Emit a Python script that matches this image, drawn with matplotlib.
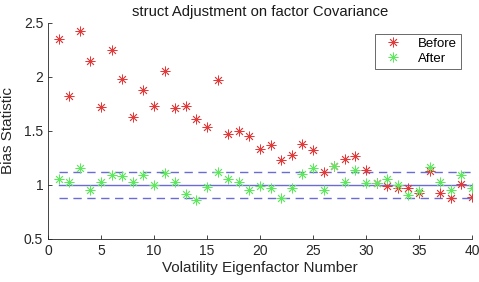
import matplotlib
matplotlib.use("Agg")
import matplotlib.pyplot as plt
import numpy as np

plt.rcParams['font.family'] = ['Liberation Sans', 'DejaVu Sans']

factor = list(range(1, 41))
before = [2.35, 1.82, 2.43, 2.15, 1.72, 2.25, 1.98, 1.63, 1.88, 1.73,
          2.06, 1.71, 1.73, 1.61, 1.54, 1.97, 1.47, 1.50, 1.455, 1.33,
          1.37, 1.23, 1.28, 1.38, 1.32, 1.12, 1.18, 1.24, 1.27, 1.135,
          1.02, 0.99, 0.97, 0.97, 0.93, 1.13, 0.93, 0.88, 1.01, 0.89]
after = [1.06, 1.03, 1.16, 0.95, 1.03, 1.09, 1.08, 1.03, 1.09, 1.00,
         1.11, 1.03, 0.92, 0.86, 0.98, 1.12, 1.06, 1.03, 0.95, 0.99,
         0.97, 0.88, 0.97, 1.10, 1.16, 0.95, 1.18, 1.03, 1.135, 1.02,
         1.02, 1.06, 1.00, 0.91, 0.94, 1.17, 1.03, 0.95, 1.09, 0.97]
center = 1.0
band = 0.12

fig = plt.figure(figsize=(4.79, 2.82), dpi=100)
ax = fig.add_axes([48/479, 43/282, 424/479, 216/282])

blue = '#6b6bd6'
ax.plot([factor[0], factor[-1]], [center, center], color=blue, lw=1.0)
ax.plot([factor[0], factor[-1]], [center + band, center + band], color=blue, lw=1.0, ls=(0, (6, 4)))
ax.plot([factor[0], factor[-1]], [center - band, center - band], color=blue, lw=1.0, ls=(0, (6, 4)))

mk = (8, 2, 0)
ax.plot(factor, before, ls='none', marker=mk, ms=7, mew=0.6, color='#e03a3a', label='Before')
ax.plot(factor, after, ls='none', marker=mk, ms=7, mew=0.6, color='#5ee85e', label='After')

ax.set_xlim(0, 40)
ax.set_ylim(0.5, 2.5)
ax.set_xticks([0, 5, 10, 15, 20, 25, 30, 35, 40])
ax.set_yticks([0.5, 1, 1.5, 2, 2.5])
ax.set_yticklabels(['0.5', '1', '1.5', '2', '2.5'])
ax.spines['top'].set_visible(False)
ax.spines['right'].set_visible(False)
for s in ['left', 'bottom']:
    ax.spines[s].set_color('#262626')
    ax.spines[s].set_linewidth(0.6)
ax.tick_params(direction='in', length=3, width=0.6, labelsize=10, colors='#262626')
ax.set_title('struct Adjustment on factor Covariance', fontsize=10.7, pad=5, color='#1a1a1a')
ax.set_xlabel('Volatility Eigenfactor Number', fontsize=11, labelpad=2, color='#262626')
ax.set_ylabel('Bias Statistic', fontsize=11, labelpad=6, color='#262626')

leg = ax.legend(loc='upper right', bbox_to_anchor=(0.99, 0.98), fontsize=9.5, frameon=True,
                fancybox=False, edgecolor='#262626', handlelength=2.2, borderpad=0.3,
                labelspacing=0.2, handletextpad=0.8)
leg.get_frame().set_linewidth(0.6)

fig.savefig('out.png', dpi=100)
